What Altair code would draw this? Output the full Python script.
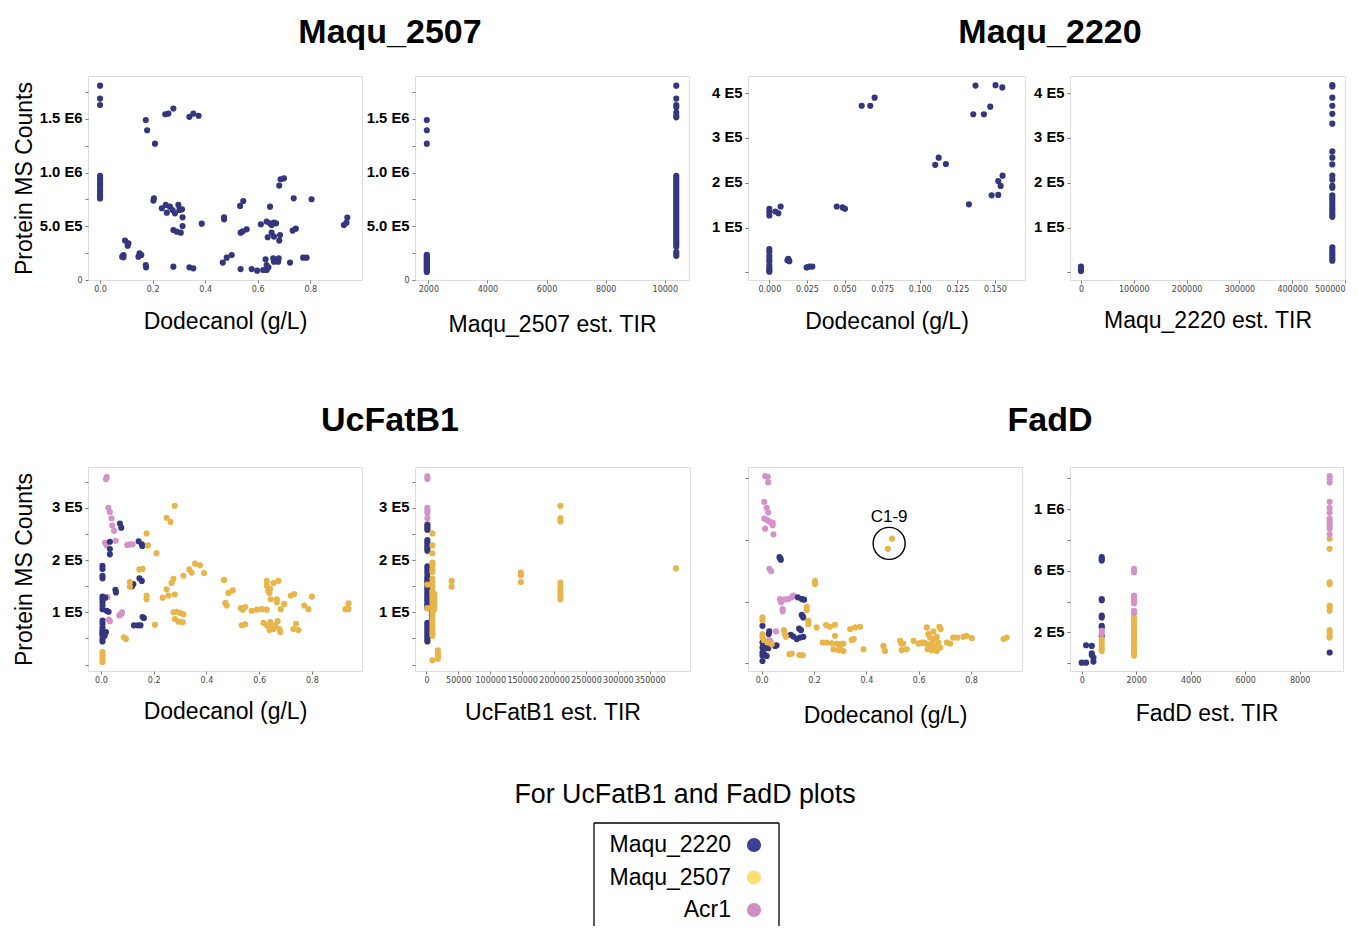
import altair as alt
import pandas as pd

NAVY = "#34377e"
GOLD = "#e8b54a"
PINK = "#d492c8"

# ---------------- Panel A: Maqu_2507 vs Dodecanol (navy) ----------------
A_navy = [(0.0,1.81e6),(0.0,1.69e6),(0.0,1.63e6),
 (0.0,0.97e6),(0.0,0.95e6),(0.0,0.93e6),(0.0,0.90e6),(0.0,0.88e6),(0.0,0.85e6),(0.0,0.83e6),(0.0,0.80e6),(0.0,0.78e6),(0.0,0.76e6),
 (0.174,1.49e6),(0.179,1.395e6),(0.209,1.27e6),
 (0.248,1.544e6),(0.26,1.55e6),(0.279,1.597e6),
 (0.34,1.52e6),(0.355,1.55e6),(0.375,1.53e6),
 (0.205,0.761e6),(0.203,0.74e6),
 (0.235,0.668e6),(0.25,0.699e6),(0.254,0.627e6),(0.266,0.683e6),(0.276,0.652e6),(0.285,0.621e6),(0.298,0.699e6),
 (0.302,0.652e6),(0.312,0.658e6),(0.314,0.584e6),(0.314,0.503e6),(0.279,0.466e6),(0.292,0.45e6),(0.307,0.441e6),(0.387,0.525e6),
 (0.095,0.367e6),(0.108,0.342e6),(0.105,0.32e6),
 (0.089,0.233e6),(0.084,0.217e6),(0.089,0.211e6),
 (0.15,0.248e6),(0.157,0.233e6),(0.146,0.217e6),
 (0.174,0.14e6),(0.175,0.118e6),(0.279,0.124e6),(0.34,0.118e6),(0.355,0.109e6),
 (0.472,0.584e6),(0.472,0.565e6),
 (0.467,0.162e6),(0.482,0.208e6),(0.501,0.233e6),
 (0.533,0.69e6),(0.545,0.736e6),(0.535,0.441e6),(0.543,0.453e6),(0.558,0.472e6),
 (0.535,0.102e6),(0.577,0.102e6),(0.598,0.087e6),(0.621,0.093e6),(0.634,0.093e6),(0.641,0.118e6),(0.634,0.14e6),(0.63,0.193e6),
 (0.612,0.519e6),(0.634,0.544e6),(0.647,0.528e6),(0.653,0.512e6),(0.662,0.534e6),(0.67,0.528e6),(0.638,0.398e6),
 (0.653,0.441e6),(0.662,0.404e6),(0.685,0.419e6),(0.682,0.367e6),
 (0.647,0.683e6),(0.682,0.879e6),(0.687,0.938e6),(0.7,0.947e6),
 (0.659,0.202e6),(0.662,0.171e6),(0.678,0.171e6),(0.68,0.202e6),
 (0.723,0.162e6),(0.733,0.46e6),(0.745,0.478e6),(0.737,0.761e6),
 (0.773,0.208e6),(0.786,0.208e6),(0.805,0.752e6),
 (0.928,0.512e6),(0.938,0.534e6),(0.941,0.581e6)]

# ---------------- Panel B: Maqu_2507 vs est. TIR (groups: x -> y values) ----------------
B_navy = {
 1950: [1.49e6,1.395e6,1.27e6,0.235e6,0.225e6,0.215e6,0.205e6,0.195e6,0.185e6,0.175e6,0.165e6,0.155e6,
        0.145e6,0.135e6,0.125e6,0.115e6,0.105e6,0.095e6,0.085e6,0.075e6],
 10390: [1.81e6,1.69e6,1.63e6,1.61e6,1.56e6,1.53e6,1.515e6,
         0.97e6,0.95e6,0.93e6,0.91e6,0.89e6,0.87e6,0.85e6,0.83e6,0.81e6,0.79e6,0.77e6,0.75e6,0.73e6,0.71e6,
         0.69e6,0.67e6,0.65e6,0.63e6,0.61e6,0.59e6,0.57e6,0.55e6,0.53e6,0.51e6,0.49e6,0.47e6,0.45e6,0.43e6,
         0.41e6,0.39e6,0.37e6,0.35e6,0.33e6,0.31e6,0.26e6,0.245e6,0.225e6],
}

# ---------------- Panel C: Maqu_2220 vs Dodecanol ----------------
C_navy = [(0,1.42e5),(0,1.35e5),(0,1.27e5),(0.004,1.36e5),(0.006,1.32e5),(0.0075,1.47e5),
 (0,0.52e5),(0,0.46e5),(0,0.37e5),(0,0.30e5),(0,0.24e5),(0,0.15e5),(0,0.09e5),(0,0.044e5),(0,0.015e5),
 (0.0126,0.30e5),(0.0133,0.25e5),(0.012,0.27e5),
 (0.0248,0.11e5),(0.0266,0.13e5),(0.0286,0.13e5),
 (0.0448,1.47e5),(0.0487,1.45e5),(0.0503,1.42e5),
 (0.0614,3.72e5),(0.0671,3.72e5),(0.07,3.9e5),
 (0.1103,2.4e5),(0.1126,2.56e5),(0.1174,2.42e5),
 (0.1327,1.52e5),
 (0.1356,3.53e5),(0.1371,4.17e5),(0.1427,3.53e5),(0.1469,3.7e5),(0.1504,4.18e5),(0.1549,4.13e5),
 (0.1478,1.72e5),(0.1522,1.73e5),(0.1522,2.04e5),(0.1538,1.93e5),(0.1551,2.16e5)]

# ---------------- Panel D: Maqu_2220 vs est. TIR ----------------
D_navy = {
 0: [0.13e5,0.11e5,0.09e5,0.07e5,0.05e5,0.03e5],
 476000: [4.18e5,4.15e5,3.9e5,3.72e5,3.54e5,3.32e5,2.70e5,2.56e5,2.41e5,2.16e5,2.07e5,1.93e5,1.89e5,1.72e5,
          1.67e5,1.62e5,1.56e5,1.50e5,1.44e5,1.39e5,1.33e5,1.28e5,1.24e5,0.56e5,0.50e5,0.45e5,0.40e5,0.35e5,0.30e5,0.26e5],
}

# ---------------- Panel E: UcFatB1 vs Dodecanol ----------------
E_navy = [(0.006,1.89e5),(0.006,1.83e5),(0.006,1.70e5),(0.006,1.65e5),(0.006,1.30e5),(0.006,1.25e5),(0.006,1.19e5),
 (0.006,1.13e5),(0.006,1.06e5),(0.006,0.84e5),(0.006,0.78e5),(0.006,0.71e5),(0.006,0.65e5),(0.006,0.62e5),
 (0.006,0.59e5),(0.006,0.56e5),(0.006,0.49e5),(0.006,0.44e5),
 (0.016,1.28e5),(0.022,1.03e5),(0.019,0.62e5),(0.014,0.55e5),
 (0.029,1.01e5),(0.034,2.35e5),(0.034,2.21e5),(0.034,2.11e5),
 (0.055,1.43e5),(0.057,1.38e5),(0.072,2.7e5),(0.077,2.62e5),
 (0.143,2.36e5),(0.155,2.3e5),(0.157,2.27e5),
 (0.146,1.65e5),(0.155,1.6e5),(0.123,1.54e5),(0.118,1.5e5),
 (0.125,0.75e5),(0.14,0.75e5),(0.15,0.75e5),(0.163,0.89e5),(0.158,0.91e5)]
E_pink = [(0.019,3.55e5),(0.022,3.59e5),
 (0.028,3.0e5),(0.034,2.92e5),(0.04,2.80e5),(0.043,2.66e5),(0.05,2.56e5),(0.056,2.37e5),
 (0.016,2.33e5),(0.022,2.28e5),(0.1,2.29e5),(0.11,2.30e5),(0.12,2.30e5),
 (0.025,1.29e5),(0.03,0.86e5),(0.034,0.83e5),(0.07,0.94e5),(0.08,1.0e5),(0.077,0.96e5)]
E_gold = [(0.006,0.24e5),(0.006,0.19e5),(0.006,0.14e5),(0.006,0.09e5),(0.006,0.05e5),
 (0.087,0.52e5),(0.095,0.49e5),(0.11,1.58e5),(0.11,1.49e5),(0.146,1.82e5),(0.158,1.83e5),
 (0.173,2.51e5),(0.178,2.28e5),(0.211,2.13e5),(0.173,1.32e5),(0.173,1.25e5),(0.205,0.76e5),
 (0.234,1.28e5),(0.249,1.44e5),(0.256,1.32e5),(0.268,1.56e5),(0.275,1.64e5),(0.28,1.34e5),
 (0.249,2.81e5),(0.264,2.73e5),(0.28,3.04e5),
 (0.275,1.0e5),(0.287,1.01e5),(0.3,0.99e5),(0.313,0.96e5),(0.281,0.87e5),(0.294,0.82e5),(0.31,0.81e5),
 (0.313,1.7e5),(0.335,1.82e5),(0.344,1.76e5),(0.357,1.93e5),(0.376,1.9e5),(0.391,1.75e5),
 (0.467,1.62e5),(0.472,1.18e5),(0.477,1.13e5),(0.484,1.37e5),(0.5,1.42e5),
 (0.53,1.08e5),(0.538,1.05e5),(0.547,1.1e5),(0.534,0.75e5),(0.547,0.77e5),(0.572,1.03e5),(0.591,1.05e5),
 (0.61,1.06e5),(0.629,1.05e5),
 (0.629,1.6e5),(0.629,1.51e5),(0.635,1.41e5),(0.639,1.37e5),(0.642,1.45e5),(0.654,1.56e5),(0.673,1.6e5),
 (0.667,1.25e5),(0.667,1.19e5),(0.682,1.06e5),(0.695,1.16e5),(0.644,1.25e5),
 (0.616,0.8e5),(0.629,0.75e5),(0.639,0.66e5),(0.648,0.71e5),(0.661,0.75e5),(0.67,0.83e5),(0.677,0.68e5),
 (0.68,0.62e5),(0.642,0.81e5),(0.654,0.68e5),
 (0.72,1.32e5),(0.733,1.35e5),(0.73,0.68e5),(0.74,0.78e5),(0.749,0.66e5),
 (0.771,1.13e5),(0.787,1.06e5),(0.8,1.3e5),(0.927,1.06e5),(0.939,1.17e5),(0.939,1.06e5)]

# ---------------- Panel F: UcFatB1 vs est. TIR ----------------
F_pink = {1500: [3.6e5,3.55e5,3.0e5,2.95e5,2.9e5,2.8e5,2.65e5,2.58e5,1.29e5]}
F_navy = {
 1500: [2.68e5,2.63e5,2.58e5,2.38e5,2.34e5,2.30e5,2.26e5,2.22e5,2.18e5,1.88e5,1.84e5,1.79e5,1.74e5,1.68e5,
        1.64e5,1.60e5,1.56e5,1.52e5,1.48e5,1.44e5,1.40e5,1.36e5,1.32e5,1.28e5,1.24e5,1.20e5,1.16e5,1.12e5,
        1.08e5,0.80e5,0.76e5,0.72e5,0.68e5,0.64e5,0.60e5,0.56e5,0.52e5,0.48e5,0.44e5],
 8500: [1.02e5,0.95e5,0.88e5,0.80e5,0.72e5,0.65e5,0.60e5],
}
F_gold = {
 1500: [1.53e5,1.08e5],
 9400: [2.51e5,2.28e5,2.13e5,1.95e5,1.90e5,1.82e5,1.77e5,1.64e5,1.58e5,1.50e5,1.41e5,1.37e5,1.32e5,1.26e5,
        1.20e5,1.14e5,1.08e5,1.02e5,0.96e5,0.90e5,0.84e5,0.78e5,0.72e5,0.66e5,0.60e5,0.55e5,0.08e5],
 12500: [1.35e5,1.30e5,1.24e5,1.18e5,1.13e5,1.06e5],
 18000: [0.27e5,0.23e5,0.18e5,0.14e5,0.11e5],
 39500: [1.60e5,1.49e5],
 148000: [1.76e5,1.71e5,1.58e5],
 210000: [3.04e5,2.80e5,2.74e5,1.57e5,1.48e5,1.41e5,1.35e5,1.30e5,1.25e5],
 391000: [1.84e5],
}

# ---------------- Panel G: FadD vs Dodecanol ----------------
G_pink = [(0.013,1.215e6),(0.023,1.21e6),(0.025,1.174e6),(0.01,1.048e6),(0.019,1.009e6),(0.025,0.978e6),
 (0.01,0.939e6),(0.023,0.928e6),(0.032,0.917e6),(0.042,0.913e6),(0.013,0.874e6),(0.042,0.896e6),(0.045,0.837e6),
 (0.029,0.613e6),(0.036,0.598e6),
 (0.07,0.417e6),(0.074,0.396e6),(0.08,0.337e6),(0.08,0.352e6),(0.09,0.415e6),(0.102,0.417e6),(0.115,0.428e6),(0.121,0.439e6),
 (0.055,0.207e6),(0.029,0.15e6),(0.034,0.141e6)]
G_navy = [(0.068,0.689e6),(0.071,0.68e6),(0.073,0.672e6),
 (0.138,0.428e6),(0.153,0.417e6),(0.162,0.413e6),(0.153,0.315e6),(0.159,0.298e6),(0.156,0.307e6),
 (0.143,0.226e6),(0.15,0.215e6),(0.134,0.157e6),(0.146,0.167e6),(0.159,0.172e6),
 (0.111,0.185e6),(0.121,0.174e6),(0.029,0.207e6),(0.027,0.19e6),
 (0.003,0.243e6),(0.003,0.135e6),(0.003,0.102e6),(0.003,0.07e6),(0.003,0.05e6),(0.003,0.015e6),
 (0.009,0.059e6),(0.019,0.048e6),(0.012,0.1e6),(0.025,0.098e6),(0.051,0.113e6),(0.057,0.117e6)]
G_gold = [(0.003,0.298e6),(0.003,0.28e6),(0.003,0.189e6),(0.003,0.167e6),(0.009,0.15e6),
 (0.025,0.135e6),(0.038,0.124e6),(0.085,0.215e6),(0.089,0.189e6),(0.093,0.172e6),
 (0.106,0.059e6),(0.115,0.063e6),(0.144,0.054e6),(0.157,0.052e6),
 (0.172,0.367e6),(0.172,0.346e6),(0.178,0.276e6),(0.178,0.254e6),(0.204,0.533e6),(0.204,0.515e6),
 (0.21,0.233e6),(0.233,0.135e6),(0.246,0.248e6),(0.261,0.237e6),(0.28,0.25e6),(0.28,0.178e6),
 (0.248,0.135e6),(0.268,0.13e6),(0.287,0.128e6),(0.299,0.124e6),(0.312,0.128e6),(0.274,0.091e6),
 (0.293,0.085e6),(0.312,0.08e6),(0.299,0.102e6),
 (0.338,0.222e6),(0.357,0.233e6),(0.376,0.237e6),(0.352,0.157e6),(0.344,0.152e6),(0.389,0.091e6),
 (0.465,0.113e6),(0.471,0.08e6),(0.482,0.743e6),(0.498,0.809e6),
 (0.529,0.146e6),(0.533,0.128e6),(0.535,0.085e6),(0.541,0.128e6),(0.554,0.091e6),(0.58,0.146e6),
 (0.599,0.128e6),(0.611,0.135e6),
 (0.631,0.233e6),(0.656,0.207e6),(0.679,0.237e6),(0.684,0.222e6),(0.637,0.189e6),(0.643,0.167e6),
 (0.656,0.157e6),(0.669,0.172e6),(0.628,0.128e6),(0.641,0.117e6),(0.65,0.128e6),(0.662,0.113e6),
 (0.675,0.135e6),(0.634,0.091e6),(0.65,0.085e6),(0.669,0.08e6),(0.682,0.102e6),(0.62,0.135e6),(0.605,0.13e6),
 (0.707,0.135e6),(0.72,0.128e6),(0.732,0.167e6),(0.748,0.167e6),(0.771,0.172e6),(0.783,0.178e6),
 (0.803,0.163e6),(0.924,0.157e6),(0.936,0.167e6)]
G_note_text = ["C1-9"]
G_note_x = [0.487]
G_note_circle_y = [0.778e6]
G_note_text_y = [0.948e6]

# ---------------- Panel H: FadD vs est. TIR ----------------
H_navy = {0: [0.004e6], 160: [0.004e6,0.117e6], 370: [0.113e6,0.054e6,0.065e6], 430: [0.037e6,0.011e6],
          735: [0.689e6,0.675e6,0.667e6,0.417e6,0.409e6,0.309e6,0.298e6,0.243e6,0.233e6,0.178e6],
          9100: [0.07e6]}
H_gold = {735: [0.157e6,0.135e6,0.113e6,0.091e6,0.08e6],
          1920: [0.298e6,0.28e6,0.26e6,0.24e6,0.22e6,0.2e6,0.18e6,0.16e6,0.14e6,0.12e6,0.10e6,0.08e6,0.06e6,0.05e6],
          9100: [0.809e6,0.743e6,0.526e6,0.515e6,0.374e6,0.363e6,0.341e6,0.215e6,0.2e6,0.178e6,0.167e6]}
H_pink = {735: [0.211e6,0.193e6],
          1920: [0.613e6,0.602e6,0.591e6,0.439e6,0.424e6,0.407e6,0.389e6,0.341e6,0.324e6],
          9100: [1.215e6,1.2e6,1.174e6,1.048e6,1.009e6,0.978e6,0.939e6,0.924e6,0.907e6,0.889e6,0.874e6,0.837e6]}

# ---------------- Legend ----------------
legend_labels = ["Maqu_2220", "Maqu_2507", "Acr1"]
legend_colors = ["#3c3e98", "#ffdf70", "#d08dc4"]
legend_title = ["For UcFatB1 and FadD plots"]

FONT = "Liberation Sans"


def from_pairs(pairs, color):
    return pd.DataFrame({"x": [p[0] for p in pairs], "y": [p[1] for p in pairs], "color": color})


def from_groups(groups, color):
    xs, ys = [], []
    for gx, yl in groups.items():
        for gy in yl:
            xs.append(gx)
            ys.append(gy)
    return pd.DataFrame({"x": xs, "y": ys, "color": color})


def label_expr(labels):
    parts = [f"abs(datum.value - {v}) < 1 ? '{t}'" for v, t in labels.items()]
    return " : ".join(parts) + " : ''"


YFS = 14.8


def yaxis(ticks, labels, title=None, zero_small=False):
    kw = dict(values=ticks, labelExpr=label_expr(labels), tickSize=3, tickColor="#777777",
              labelPadding=3, labelFontSize=YFS, labelFontWeight="bold", labelColor="black",
              labelFont=FONT, grid=False, domain=False, labelOverlap=False)
    if zero_small:
        kw.update(
            labelFontSize={"condition": {"test": "datum.value == 0", "value": 8}, "value": YFS},
            labelFontWeight={"condition": {"test": "datum.value == 0", "value": "normal"}, "value": "bold"},
            labelFont={"condition": {"test": "datum.value == 0", "value": "DejaVu Sans"}, "value": FONT},
            labelColor={"condition": {"test": "datum.value == 0", "value": "#444444"}, "value": "black"},
        )
    if title:
        kw.update(title=title, titleFontSize=23, titleFontWeight="normal", titleColor="black",
                  titleFont=FONT, titlePadding=4, minExtent=48, maxExtent=48)
    else:
        kw.update(title=None)
    return alt.Axis(**kw)


def xaxis(ticks, fmt, title, pad):
    return alt.Axis(values=ticks, format=fmt, title=title, tickSize=3, tickColor="#777777",
                    labelPadding=2, labelFontSize=8, labelFont="DejaVu Sans", labelColor="#444444",
                    titleFontSize=23, titleFontWeight="normal", titleColor="black", titleFont=FONT,
                    titlePadding=pad, grid=False, domain=False, labelOverlap=False, labelFlush=True)


def big_title(text, y):
    return alt.Chart(pd.DataFrame({"t": [text]})).mark_text(
        font=FONT, fontSize=34, fontWeight="bold", color="black", align="center", baseline="middle"
    ).encode(text="t:N", x=alt.value(302), y=alt.value(y))


def panel(df, w, h, xdom, ydom, xax, yax, extra=()):
    pts = alt.Chart(df).mark_circle(size=38, opacity=1).encode(
        x=alt.X("x:Q", scale=alt.Scale(domain=xdom, nice=False, zero=False), axis=xax),
        y=alt.Y("y:Q", scale=alt.Scale(domain=ydom, nice=False, zero=False), axis=yax),
        color=alt.Color("color:N", scale=None),
    )
    return alt.layer(pts, *extra).properties(width=w, height=h)


def spacer(w, h=1):
    return alt.Chart(pd.DataFrame({"v": [0]})).mark_point(opacity=0).encode(
        x=alt.value(0), y=alt.value(0)
    ).properties(width=w, height=h, view=alt.ViewBackground(stroke="transparent"))


H1, H2 = 204, 204

yt_big = [0, 2.5e5, 5e5, 7.5e5, 1e6, 1.25e6, 1.5e6, 1.75e6]
yl_big = {0: "0", 500000: "5.0 E5", 1000000: "1.0 E6", 1500000: "1.5 E6"}
yt_2220 = [0, 1e5, 2e5, 3e5, 4e5]
yl_2220 = {100000: "1 E5", 200000: "2 E5", 300000: "3 E5", 400000: "4 E5"}
yt_uc = [0, 0.5e5, 1e5, 1.5e5, 2e5, 2.5e5, 3e5, 3.5e5]
yl_uc = {100000: "1 E5", 200000: "2 E5", 300000: "3 E5"}
yt_fd = [0, 2e5, 4e5, 6e5, 8e5, 1e6, 1.2e6]
yl_fd = {200000: "2 E5", 600000: "6 E5", 1000000: "1 E6"}

dod_ticks = [0, 0.2, 0.4, 0.6, 0.8]

pA = panel(from_pairs(A_navy, NAVY), 274, H1, [-0.046, 0.997], [0, 1.9e6],
           xaxis(dod_ticks, ".1f", "Dodecanol (g/L)", 17),
           yaxis(yt_big, yl_big, "Protein MS Counts", zero_small=True),
           extra=[big_title("Maqu_2507", -43)])
pB = panel(from_groups(B_navy, NAVY), 274, H1, [1550, 10820], [0, 1.9e6],
           xaxis([2000, 4000, 6000, 8000, 10000], "d", "Maqu_2507 est. TIR", 20),
           yaxis(yt_big, yl_big, zero_small=True))
pC = panel(from_pairs(C_navy, NAVY), 277, H1, [-0.0142, 0.170], [-17000, 438400],
           xaxis([0, 0.025, 0.05, 0.075, 0.1, 0.125, 0.15], ".3f", "Dodecanol (g/L)", 17),
           yaxis(yt_2220, yl_2220),
           extra=[big_title("Maqu_2220", -43)])
pD = panel(from_groups(D_navy, NAVY), 275, H1, [-20800, 500000], [-17000, 438400],
           xaxis([0, 100000, 200000, 300000, 400000, 500000], "d", "Maqu_2220 est. TIR", 16),
           yaxis(yt_2220, yl_2220))

dfE = pd.concat([from_pairs(E_pink, PINK), from_pairs(E_navy, NAVY), from_pairs(E_gold, GOLD)])
pE = panel(dfE, 274, H2, [-0.049, 0.99], [-12400, 378100],
           xaxis(dod_ticks, ".1f", "Dodecanol (g/L)", 16),
           yaxis(yt_uc, yl_uc, "Protein MS Counts"),
           extra=[big_title("UcFatB1", -46)])
dfF = pd.concat([from_groups(F_pink, PINK), from_groups(F_navy, NAVY), from_groups(F_gold, GOLD)])
pF = panel(dfF, 275, H2, [-17900, 413000], [-12400, 378100],
           xaxis([0, 50000, 100000, 150000, 200000, 250000, 300000, 350000], "d", "UcFatB1 est. TIR", 17),
           yaxis(yt_uc, yl_uc))

note_df = pd.DataFrame({"x": G_note_x, "y": G_note_circle_y})
note_txt_df = pd.DataFrame({"x": G_note_x, "y": G_note_text_y, "t": G_note_text})
note_circle = alt.Chart(note_df).mark_point(shape="circle", size=1024, filled=False, color="black",
                                            strokeWidth=1.4, opacity=1).encode(x="x:Q", y="y:Q")
note_text = alt.Chart(note_txt_df).mark_text(font=FONT, fontSize=17, color="black",
                                             baseline="middle").encode(x="x:Q", y="y:Q", text="t:N")
dfG = pd.concat([from_pairs(G_pink, PINK), from_pairs(G_navy, NAVY), from_pairs(G_gold, GOLD)])
pG = panel(dfG, 274, H2, [-0.0523, 0.9946], [-50000, 1274000],
           xaxis(dod_ticks, ".1f", "Dodecanol (g/L)", 20),
           yaxis(yt_fd, yl_fd),
           extra=[note_circle, note_text, big_title("FadD", -46)])
dfH = pd.concat([from_groups(H_navy, NAVY), from_groups(H_gold, GOLD), from_groups(H_pink, PINK)])
pH = panel(dfH, 273, H2, [-430, 9590], [-50000, 1274000],
           xaxis([0, 2000, 4000, 6000, 8000], "d", "FadD est. TIR", 18),
           yaxis(yt_fd, yl_fd))

# ---------------- Legend chart ----------------
leg_df = pd.DataFrame({"label": legend_labels, "color": legend_colors})
leg_y = alt.Y("label:N", scale=alt.Scale(domain=legend_labels, range=[-13, 52], padding=0), axis=None)
leg_text = alt.Chart(leg_df).mark_text(font=FONT, fontSize=23, align="right", baseline="middle",
                                        color="black").encode(y=leg_y, x=alt.value(316), text="label:N")
leg_pts = alt.Chart(leg_df).mark_circle(size=200, opacity=1).encode(
    y=leg_y, x=alt.value(339), color=alt.Color("color:N", scale=None))
leg_title = alt.Chart(pd.DataFrame({"t": legend_title})).mark_text(
    font=FONT, fontSize=26.8, align="center", baseline="middle", color="black"
).encode(text="t:N", x=alt.value(270), y=alt.value(-63))
rule_df = pd.DataFrame({"v": [0]})
box_l = alt.Chart(rule_df).mark_rule(color="black", strokeWidth=1.3).encode(
    x=alt.value(179), y=alt.value(-35), y2=alt.value(68))
box_r = alt.Chart(rule_df).mark_rule(color="black", strokeWidth=1.3).encode(
    x=alt.value(364), y=alt.value(-35), y2=alt.value(68))
box_t = alt.Chart(rule_df).mark_rule(color="black", strokeWidth=1.3).encode(
    x=alt.value(179), x2=alt.value(364), y=alt.value(-35))
legend_chart = alt.layer(leg_title, box_l, box_r, box_t, leg_text, leg_pts).properties(
    width=274, height=60, view=alt.ViewBackground(stroke="transparent"))

items = [pA, spacer(53), pB, spacer(58), pC, spacer(45), pD,
         pE, spacer(53), pF, spacer(58), pG, spacer(45), pH,
         spacer(1), spacer(1), legend_chart]

chart = alt.concat(*items, columns=7, spacing={"row": 187, "column": 0},
                   bounds="flush", align="each").properties(
    padding={"left": 12, "top": 15, "right": 5, "bottom": 0}
).configure_view(stroke="#8c8c8c", strokeWidth=1.5).configure(font=FONT)

chart.save("out.html", embed_options={"renderer": "svg", "actions": False})
